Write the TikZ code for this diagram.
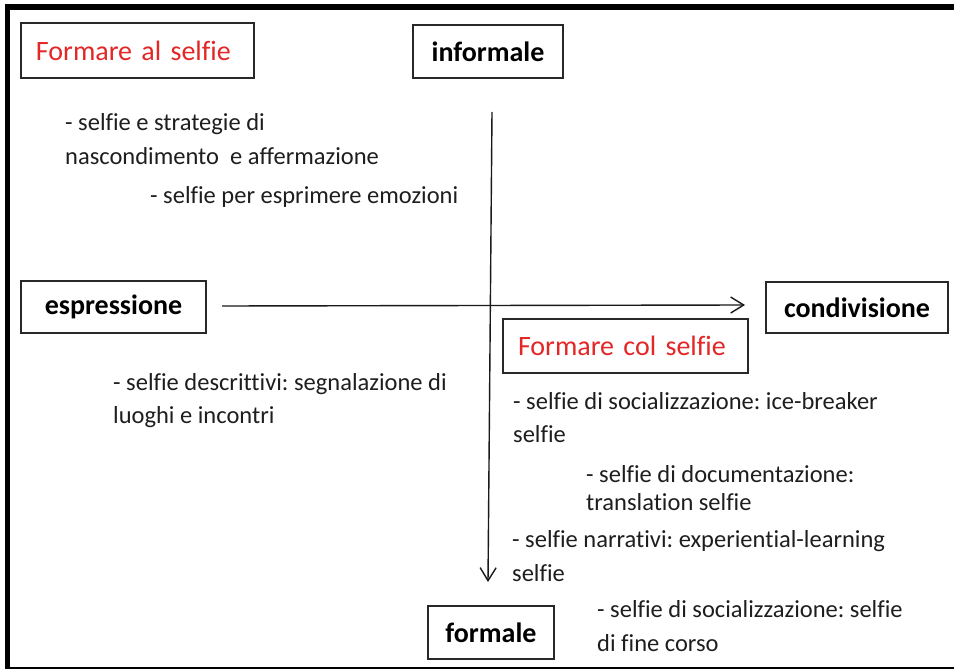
\documentclass[tikz,border=0pt]{standalone}
\usepackage{fontspec}
\setmainfont{Carlito}[Ligatures=NoCommon]
\frenchspacing
\usetikzlibrary{arrows.meta}
\definecolor{redtitle}{RGB}{228,38,38}
\definecolor{boxline}{RGB}{40,40,40}
\definecolor{bodytext}{RGB}{30,30,30}
\begin{document}
\begin{tikzpicture}[x=1bp,y=-1bp,
  box/.style={draw=boxline, line width=1.3bp, fill=white, inner sep=0pt},
  boldlabel/.style={box, font=\fontsize{28bp}{34bp}\selectfont\bfseries, text=black},
  redlabel/.style={box, font=\fontsize{28bp}{34bp}\selectfont, text=redtitle, align=left, inner xsep=15bp},
  txt/.style={anchor=west, inner sep=0pt, text height=0.72em, text depth=0.2em,
    font=\fontsize{24.5bp}{30bp}\selectfont, text=bodytext},
  axis/.style={line width=1.4bp, draw=black!90, -{Straight Barb[length=13bp, width=16bp, line width=1.4bp]}}]
\useasboundingbox (0,0) rectangle (954,670);
\fill[white] (0,0) rectangle (954,670);
% frame
\draw[line width=6bp] (5,7) -- (954,7);
\draw[line width=5bp] (7.5,4) -- (7.5,668);
\draw[line width=1.2bp] (5,668) -- (954,668);
% boxes
\node[redlabel, minimum width=233bp, minimum height=55bp, text width=203bp] (fas) at (137.5,50.5) {Formare al selfie};
\node[boldlabel, minimum width=150bp, minimum height=53bp] (inf) at (488,51.5) {informale};
\node[boldlabel, minimum width=185bp, minimum height=52bp] (esp) at (113.5,307) {espressione};
\node[boldlabel, minimum width=182bp, minimum height=51bp] (con) at (857,307.5) {condivisione};
\node[boldlabel, minimum width=126bp, minimum height=53bp] (for) at (491,632.5) {formale};
% axes
\coordinate (hstart) at (222,306);
\coordinate (hend) at (745,305);
\coordinate (vstart) at (492,112);
\coordinate (vend) at (488,582);
\draw[axis] (hstart) -- (hend);
\draw[axis] (vstart) -- (vend);
\node[redlabel, minimum width=245bp, minimum height=54bp, text width=215bp] (fcs) at (625.5,346) {Formare col selfie};
% texts
\node[txt] (t1) at (65,128) {- selfie e strategie di};
\node[txt] (t2) at (65,162) {nascondimento\ \ e affermazione};
\node[txt] (t3) at (150,201) {- selfie per esprimere emozioni};
\node[txt] (t4) at (113,388) {- selfie descrittivi: segnalazione di};
\node[txt] (t5) at (113,421) {luoghi e incontri};
\node[txt] (t6) at (513,407) {- selfie di socializzazione: ice-breaker};
\node[txt] (t7) at (513,440) {selfie};
\node[txt] (t8) at (586,480) {- selfie di documentazione:};
\node[txt] (t9) at (586,508) {translation selfie};
\node[txt] (t10) at (512,545) {- selfie narrativi: experiential-learning};
\node[txt] (t11) at (512,579) {selfie};
\node[txt] (t12) at (597,615) {- selfie di socializzazione: selfie};
\node[txt] (t13) at (597,649) {di fine corso};
\end{tikzpicture}
\end{document}
